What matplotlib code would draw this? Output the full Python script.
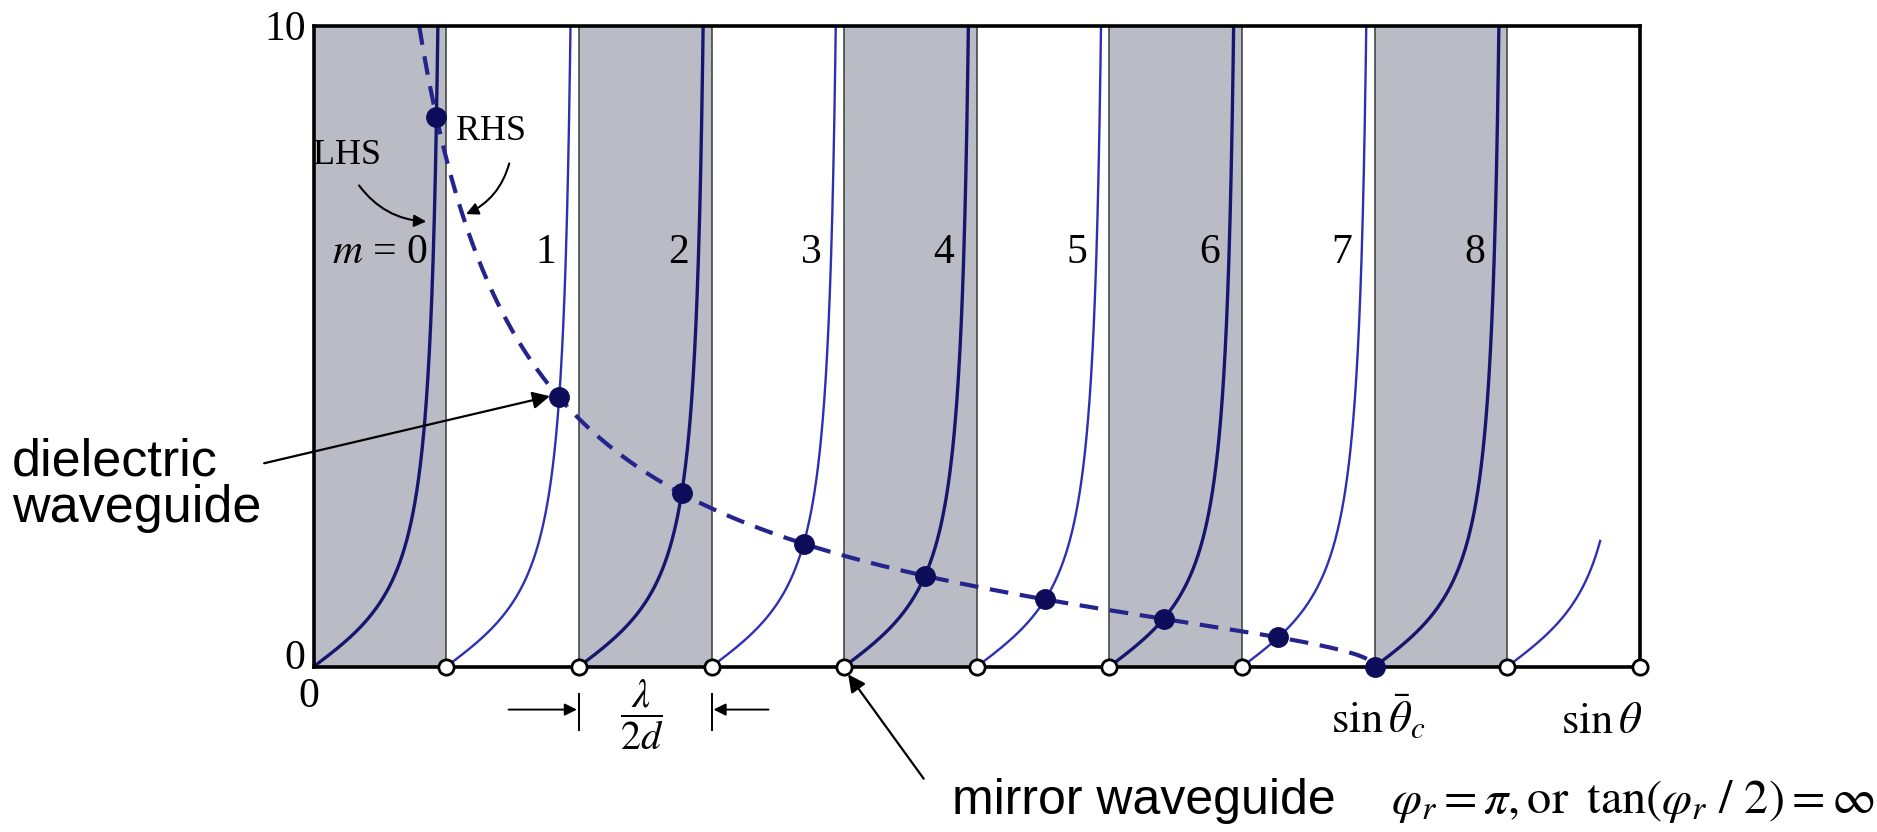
import numpy as np
import matplotlib.pyplot as plt

plt.rcParams['mathtext.fontset'] = 'stix'
SERIF = 'Liberation Serif'
SANS = 'Liberation Sans'

# Abscissa is sin(theta) measured in units of lambda/2d
mode_numbers = [0, 1, 2, 3, 4, 5, 6, 7, 8]
shaded_band_starts = [0, 2, 4, 6, 8]
open_circle_x = [1, 2, 3, 4, 5, 6, 7, 9, 10]
sin_theta_c = 8.0          # sin(theta_c) / (lambda/2d)
x_max = 10.0
y_max = 10.0
extra_branch = (9.0, 9.7)  # start/end of the branch beyond cutoff

# colours
shade_color = '#b9bcc5'
dark_curve = '#16166e'
light_curve = '#2f2fb4'
dot_color = '#0d0d5c'
dash_color = '#24248c'


def lhs(x, m):
    return np.tan(np.pi / 2 * (x - m))


def rhs(x):
    return np.sqrt((sin_theta_c / x) ** 2 - 1.0)


def solve_mode(m):
    if m >= sin_theta_c:
        return sin_theta_c, 0.0
    lo, hi = m + 1e-9, min(m + 1 - 1e-9, sin_theta_c)
    for _ in range(200):
        mid = 0.5 * (lo + hi)
        if lhs(mid, m) - rhs(mid) > 0:
            hi = mid
        else:
            lo = mid
    xm = 0.5 * (lo + hi)
    return xm, lhs(xm, m)


fig = plt.figure(figsize=(18.77, 8.32), dpi=100)
ax = fig.add_axes([0.1671, 0.1987, 0.8737 - 0.1671, 0.9684 - 0.1987])
ax.set_xlim(0, x_max)
ax.set_ylim(0, y_max)
ax.set_xticks([])
ax.set_yticks([])
for s in ax.spines.values():
    s.set_linewidth(2.6)
    s.set_color('black')
    s.set_zorder(6)

# shaded bands and band borders
for b in shaded_band_starts:
    ax.axvspan(b, b + 1, color=shade_color, zorder=0, lw=0)
for k in range(1, int(x_max)):
    ax.axvline(k, color='#3a3a3a', lw=1.1, zorder=1)

# LHS branches tan(pi/2 (x - m))
for m in mode_numbers:
    x_top = m + 2 / np.pi * np.arctan(y_max)
    xs = np.linspace(m, x_top, 500)
    shaded = m in shaded_band_starts
    ax.plot(xs, lhs(xs, m), color=dark_curve if shaded else light_curve,
            lw=2.4 if shaded else 1.7, zorder=3, solid_capstyle='butt')
xs = np.linspace(*extra_branch, 200)
ax.plot(xs, lhs(xs, extra_branch[0]), color=light_curve, lw=1.7, zorder=3)

# RHS dashed curve
x_start = sin_theta_c / np.sqrt(1 + y_max ** 2)
xs = np.linspace(x_start, sin_theta_c, 800)
ax.plot(xs, rhs(xs), color=dash_color, lw=3.0, ls=(0, (4.5, 2.8)), zorder=4)

# guided-mode solutions
sol = [solve_mode(m) for m in mode_numbers]
ax.plot([p[0] for p in sol], [p[1] for p in sol], 'o', ms=14,
        color=dot_color, zorder=7, clip_on=False)

# cutoff circles on the axis
ax.plot(open_circle_x, [0] * len(open_circle_x), 'o', ms=11, mfc='white',
        mec='black', mew=2.0, zorder=8, clip_on=False)

# mode labels
for m in mode_numbers:
    if m == 0:
        ax.text(m + 0.86, 6.47, r'$m$' + ' = 0', fontsize=30, family=SERIF,
                ha='right', va='center', zorder=5)
    else:
        ax.text(m + 0.83, 6.47, str(m), fontsize=30, family=SERIF,
                ha='right', va='center', zorder=5)

# LHS / RHS callouts
ax.text(0.25, 7.98, 'LHS', fontsize=26, family=SERIF, ha='center',
        va='center', zorder=5)
ax.text(1.34, 8.36, 'RHS', fontsize=26, family=SERIF, ha='center',
        va='center', zorder=5)
ax.annotate('', xy=(0.87, 6.95), xytext=(0.33, 7.55),
            arrowprops=dict(arrowstyle='-|>', color='black', lw=1.5,
                            mutation_scale=18,
                            connectionstyle='arc3,rad=0.25'), zorder=5)
ax.annotate('', xy=(1.13, 7.05), xytext=(1.48, 7.9),
            arrowprops=dict(arrowstyle='-|>', color='black', lw=1.5,
                            mutation_scale=18,
                            connectionstyle='arc3,rad=-0.25'), zorder=5)

# axis labels
ax.text(-0.06, 9.94, '10', fontsize=30, family=SERIF, ha='right',
        va='center', clip_on=False)
ax.text(-0.06, 0.13, '0', fontsize=30, family=SERIF, ha='right',
        va='center', clip_on=False)
ax.text(-0.04, -0.47, '0', fontsize=30, family=SERIF, ha='center',
        va='center', clip_on=False)
ax.text(8.03, -0.8, r'$\sin\bar{\theta}_c$', fontsize=32, ha='center',
        va='center', clip_on=False)
ax.text(9.71, -0.84, r'$\sin\theta$', fontsize=32, ha='center',
        va='center', clip_on=False)

# lambda/2d spacing marker
for xv in (2, 3):
    ax.plot([xv, xv], [-0.43, -0.99], color='black', lw=1.4, clip_on=False)
ax.annotate('', xy=(1.985, -0.67), xytext=(1.47, -0.67),
            arrowprops=dict(arrowstyle='-|>', color='black', lw=1.4,
                            mutation_scale=18, shrinkA=0, shrinkB=0),
            annotation_clip=False)
ax.annotate('', xy=(3.015, -0.67), xytext=(3.43, -0.67),
            arrowprops=dict(arrowstyle='-|>', color='black', lw=1.4,
                            mutation_scale=18, shrinkA=0, shrinkB=0),
            annotation_clip=False)
ax.text(2.47, -0.75, r'$\dfrac{\lambda}{2d}$', fontsize=29, ha='center',
        va='center', clip_on=False)

# dielectric waveguide callout
m1 = sol[1]
ax.annotate('dielectric\nwaveguide', xy=(m1[0] - 0.07, m1[1] + 0.02),
            xytext=(0.0064, 0.417), textcoords='figure fraction',
            fontsize=37.5, family=SANS, ha='left', va='center',
            linespacing=0.95,
            arrowprops=dict(arrowstyle='-|>', color='black', lw=1.6,
                            mutation_scale=26, shrinkA=0, shrinkB=0,
                            relpos=(1.0, 0.72)),
            annotation_clip=False)

# mirror waveguide callout
ax.annotate('', xy=(4.03, -0.12), xytext=(4.6, -1.75),
            arrowprops=dict(arrowstyle='-|>', color='black', lw=1.6,
                            mutation_scale=26, shrinkA=0, shrinkB=0),
            annotation_clip=False)
ax.text(4.81, -2.1, 'mirror waveguide', fontsize=36, family=SANS,
        ha='left', va='center', clip_on=False)
ax.text(8.12, -2.1,
        r'$\varphi_r = \pi, \mathrm{or}\;\; \tan(\varphi_r\ /\ 2) = \infty$',
        fontsize=34.8, ha='left', va='center', clip_on=False)

fig.savefig('out.png', dpi=100)
